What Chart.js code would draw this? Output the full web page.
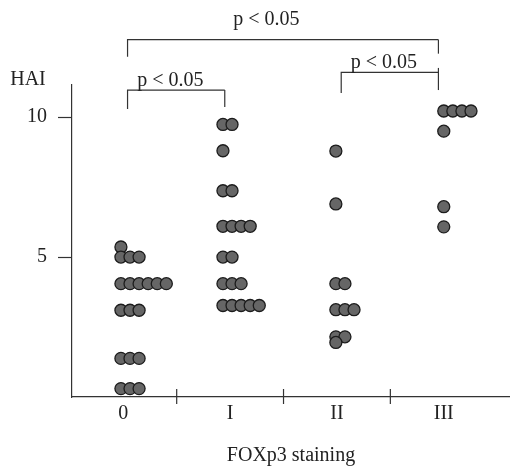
<!DOCTYPE html>
<html>
<head>
<meta charset="utf-8">
<script src="https://cdn.jsdelivr.net/npm/chart.js@4.4.0/dist/chart.umd.min.js"></script>
<style>
  html, body { margin: 0; padding: 0; background: #fff; }
</style>
</head>
<body>
<canvas id="chart" width="510" height="471"></canvas>
<script>
// Categories and tick labels
const groupNames = ["0", "I", "II", "III"];
const yTicks = [5, 10];

// HAI value of each row of dots, and how many patients sit in that row
const hai0 = [5.36, 5.0, 4.05, 3.1, 1.38, 0.3];
const count0 = [1, 3, 6, 3, 3, 3];
const hai1 = [9.74, 8.8, 7.37, 6.1, 5.0, 4.05, 3.27];
const count1 = [2, 1, 2, 4, 2, 3, 5];
const hai2 = [8.79, 6.9, 4.05, 3.12, 2.15, 1.95];
const count2 = [1, 1, 2, 3, 2, 1];
const hai3 = [10.22, 9.5, 6.8, 6.08];
const count3 = [4, 1, 1, 1];

// Significance brackets (x in category units, y in HAI units)
const brackets = [
  { from: 0.04, to: 2.95, y: 12.77, leftEnd: 12.16, rightEnd: 12.27, textX: 1.34, textY: 13.31, label: "p < 0.05" },
  { from: 0.04, to: 0.95, y: 10.97, leftEnd: 10.29, rightEnd: 10.36, textX: 0.44, textY: 11.1, label: "p < 0.05" },
  { from: 2.04, to: 2.95, y: 11.6, leftEnd: 10.86, rightEnd: 10.97, rightTop: 11.76, textX: 2.44, textY: 11.74, label: "p < 0.05" }
];

// dots of a row are stacked side by side, starting near the category centre
const startOffset = [-0.022, -0.067, -0.01, 0.0];
const dotStep = 0.085;

const serif = "'Liberation Serif', 'DejaVu Serif', serif";
const ink = "#222";

function buildPoints(g, hai, counts) {
  const pts = [];
  hai.forEach((v, i) => {
    for (let k = 0; k < counts[i]; k++) {
      pts.push({ x: g + startOffset[g] + k * dotStep, y: v });
    }
  });
  return pts;
}

const allHai = [hai0, hai1, hai2, hai3];
const allCounts = [count0, count1, count2, count3];

const datasets = groupNames.map((name, g) => ({
  label: name,
  data: buildPoints(g, allHai[g], allCounts[g]),
  pointRadius: 6,
  pointHoverRadius: 6,
  pointBorderWidth: 1.3,
  backgroundColor: "#666",
  borderColor: "#1c1c1c",
  clip: false
}));

// separators on the x axis, brackets and the HAI label
const extras = {
  id: "extras",
  afterDraw(chart) {
    const { ctx, chartArea, scales: { x, y } } = chart;
    ctx.save();
    ctx.strokeStyle = "#333";
    ctx.lineWidth = 1.2;

    [0.5, 1.5, 2.5].forEach(v => {
      const px = x.getPixelForValue(v);
      ctx.beginPath();
      ctx.moveTo(px, chartArea.bottom - 8);
      ctx.lineTo(px, chartArea.bottom + 7);
      ctx.stroke();
    });

    ctx.fillStyle = ink;
    ctx.font = "20px " + serif;
    ctx.textAlign = "center";
    ctx.textBaseline = "alphabetic";
    brackets.forEach(b => {
      const x1 = x.getPixelForValue(b.from);
      const x2 = x.getPixelForValue(b.to);
      const py = y.getPixelForValue(b.y);
      ctx.beginPath();
      ctx.moveTo(x1, y.getPixelForValue(b.leftEnd));
      ctx.lineTo(x1, py);
      ctx.lineTo(x2, py);
      ctx.stroke();
      ctx.beginPath();
      ctx.moveTo(x2, y.getPixelForValue(b.rightTop != null ? b.rightTop : b.y));
      ctx.lineTo(x2, y.getPixelForValue(b.rightEnd));
      ctx.stroke();
      ctx.fillText(b.label, x.getPixelForValue(b.textX), y.getPixelForValue(b.textY));
    });

    ctx.textBaseline = "middle";
    ctx.fillText("HAI", chartArea.left - 44, chartArea.top - 5);
    ctx.restore();
  }
};

new Chart(document.getElementById("chart"), {
  type: "scatter",
  data: { datasets },
  plugins: [extras],
  options: {
    responsive: false,
    animation: false,
    layout: { autoPadding: false, padding: { top: 85, right: 0, left: 0, bottom: 0 } },
    plugins: {
      legend: { display: false },
      tooltip: { enabled: false }
    },
    scales: {
      x: {
        type: "linear",
        min: -0.48,
        max: 3.62,
        afterBuildTicks: scale => { scale.ticks = groupNames.map((_, i) => ({ value: i })); },
        ticks: {
          callback: (value, index) => groupNames[index],
          font: { family: serif, size: 20 },
          color: ink,
          padding: 5,
          autoSkip: false,
          maxRotation: 0
        },
        grid: { display: false, drawTicks: false },
        border: { color: "#333", width: 1.2 },
        title: {
          display: true,
          text: "FOXp3 staining",
          font: { family: serif, size: 20 },
          color: ink,
          padding: { top: 13, bottom: 3 }
        }
      },
      y: {
        min: 0,
        max: 11.15,
        afterBuildTicks: scale => { scale.ticks = yTicks.map(v => ({ value: v })); },
        afterFit: scale => { scale.width = 72; },
        ticks: {
          font: { family: serif, size: 20 },
          color: ink,
          padding: 11
        },
        grid: { drawOnChartArea: false, tickLength: 14, tickColor: "#333", tickWidth: 1.2 },
        border: { color: "#333", width: 1.2 }
      }
    }
  }
});
</script>
</body>
</html>
